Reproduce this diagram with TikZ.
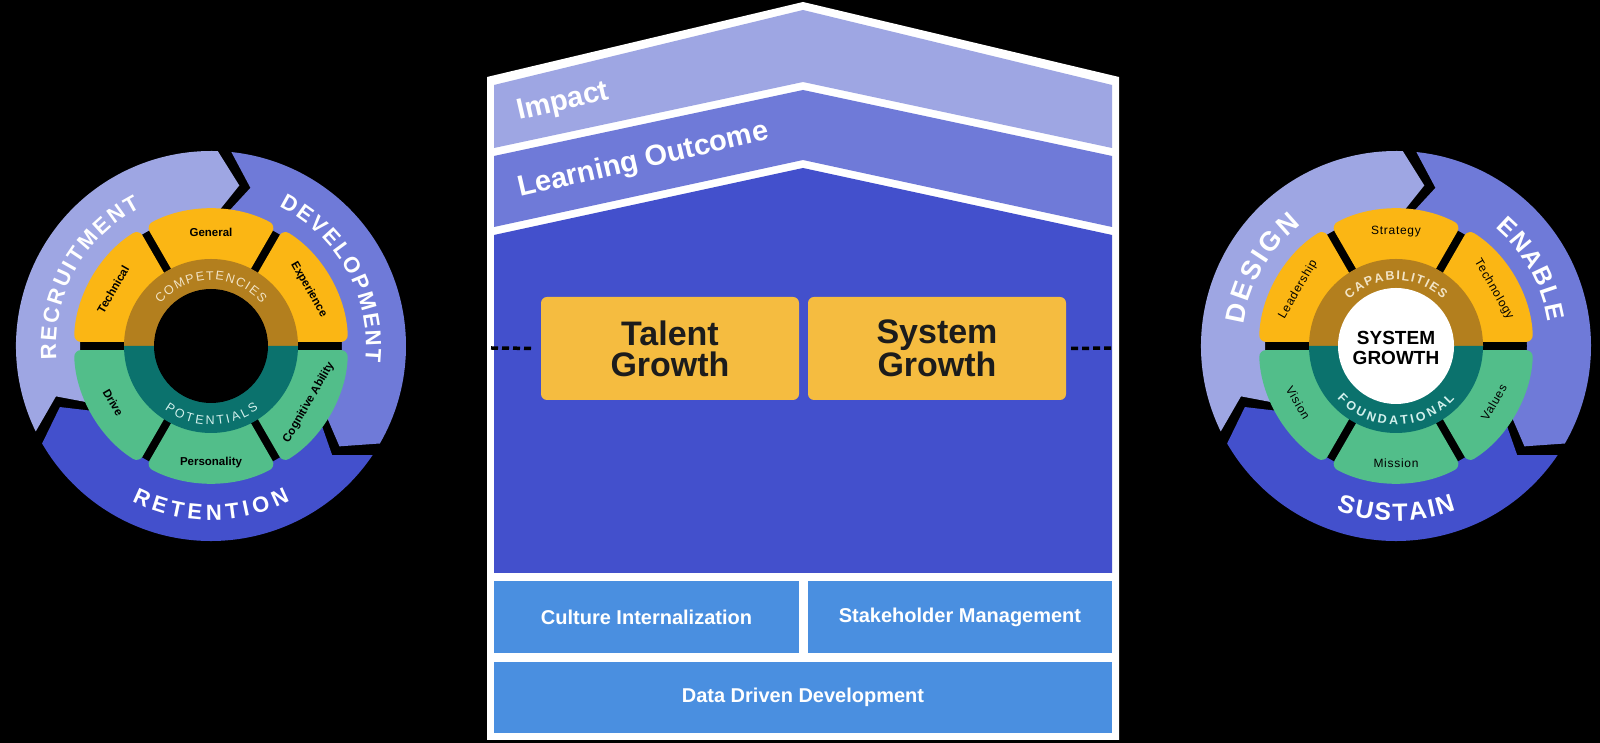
\documentclass[tikz,border=0pt]{standalone}
\usepackage{fontspec}
\setmainfont{Liberation Sans}
\newfontfamily\spacedfont[LetterSpace=6]{Liberation Sans}
\usetikzlibrary{decorations.text}

\definecolor{roofLight}{HTML}{9EA6E3}
\definecolor{roofMid}{HTML}{6F7AD8}
\definecolor{roofDark}{HTML}{4350CC}
\definecolor{sectorYellow}{HTML}{FBB614}
\definecolor{sectorGreen}{HTML}{52BE8A}
\definecolor{ringBrown}{HTML}{B37F1E}
\definecolor{ringTeal}{HTML}{0B726D}
\definecolor{growthYellow}{HTML}{F5BC40}
\definecolor{baseBlue}{HTML}{4A8FE0}
\definecolor{inkDark}{HTML}{1C1C1C}
\definecolor{creamText}{HTML}{F2E4C6}
\definecolor{mintText}{HTML}{D2F0EC}

\begin{document}
\begin{tikzpicture}[x=1pt, y=1pt,
    growthbox/.style={
      fill=growthYellow,
      rounded corners=6pt,
      text=inkDark,
      align=center,
      font=\fontsize{34}{31}\selectfont\bfseries,
      minimum width=258pt,
      minimum height=103pt,
      inner sep=0pt
    },
    basebox/.style={
      fill=baseBlue,
      text=white,
      font=\fontsize{20}{24}\selectfont\bfseries,
      inner sep=0pt
    },
    bandlabel/.style={
      text=white,
      font=\fontsize{29}{32}\selectfont\bfseries,
      anchor=base west,
      rotate=13,
      inner sep=0pt
    },
    seclabel/.style={text=black, font=\fontsize{11.5}{13}\selectfont\bfseries, inner sep=0pt},
    seclabelspaced/.style={text=black, font=\spacedfont\fontsize{12}{14}\selectfont, inner sep=0pt},
    link/.style={draw=black, line width=3.5pt, dash pattern=on 7pt off 4pt},
    ringtext/.style={decorate, decoration={text along path, text align=fit to path, text color=#1}}
  ]

    % Background
    \fill[black] (0,0) rectangle (1600,743);
    \useasboundingbox (0,0) rectangle (1600,743);

    % House
    \fill[white] (487,3) -- (487,666) -- (803,741) -- (1119,666) -- (1119,3) -- cycle;
    \fill[roofLight] (494,595) -- (494,658) -- (803,733) -- (1112,658) -- (1112,595) -- (803,661) -- cycle;
    \fill[roofMid] (494,516) -- (494,587) -- (803,653) -- (1112,587) -- (1112,516) -- (803,583) -- cycle;
    \fill[roofDark] (494,170) -- (494,508) -- (803,575) -- (1112,508) -- (1112,170) -- cycle;

    \node[bandlabel] (impact) at (519,623) {Impact};
    \node[bandlabel] (outcome) at (520,546) {Learning Outcome};

    % Growth boxes
    \node[growthbox] (talent) at (670,394.5) {Talent\\Growth};
    \node[growthbox] (system) at (937,394.5) {System\\Growth};

    % Foundation
    \node[basebox, minimum width=305pt, minimum height=72pt] (culture) at (646.5,126)
      {Culture Internalization};
    \node[basebox, minimum width=304pt, minimum height=72pt] (stakeholder) at (960,126)
      {Stakeholder Management};
    \node[basebox, minimum width=618pt, minimum height=71pt] (data) at (803,45.5)
      {Data Driven Development};

    % Links to the circles
    \coordinate (leftWall) at (491,395);
    \coordinate (rightWall) at (1115,395);
    \draw[link, shorten >=7pt] (leftWall) -- (talent.west);
    \draw[link, shorten <=5pt] (system.east) -- (rightWall);

    % Circles
    \coordinate (talentHub) at (211,397);
    \coordinate (systemHub) at (1396,397);

    \foreach \hub in {talentHub, systemHub} {
      \begin{scope}[shift={(\hub)}]
        \foreach \s/\e/\col in {208/86/roofLight, 86/-32/roofMid, -32/-152/roofDark}
          \fill[\col] ({\s-2}:195) arc[start angle={\s-2}, end angle={\e+2}, radius=195]
            -- ({\e-6}:163) -- ({\e+2}:131)
            arc[start angle={\e+2}, end angle={\s-2}, radius=131]
            -- ({\s-10}:163) -- cycle;
        \foreach \a/\b/\col in {0/60/sectorYellow, 60/120/sectorYellow, 120/180/sectorYellow,
            -60/0/sectorGreen, -120/-60/sectorGreen, -180/-120/sectorGreen}
          \fill[\col, rounded corners=7pt] ({\a+2.9}:80) -- ({\a+1.7}:137)
            arc[start angle={\a+1.7}, end angle={\b-1.7}, radius=137]
            -- ({\b-2.9}:80) -- cycle;
        \fill[ringBrown] (0:87) arc[start angle=0, end angle=180, radius=87] -- cycle;
        \fill[ringTeal] (180:87) arc[start angle=180, end angle=360, radius=87] -- cycle;
      \end{scope}
    }

    % Talent circle
    \begin{scope}[shift={(talentHub)}]
      \fill[black] (0,0) circle[radius=57];

      \path[ringtext=white, decoration={text={|\fontsize{22}{26}\selectfont\bfseries|RECRUITMENT}}]
        (185:155) arc[start angle=185, end angle=117, radius=155];
      \path[ringtext=white, decoration={text={|\fontsize{22}{26}\selectfont\bfseries|DEVELOPMENT}}]
        (64:155) arc[start angle=64, end angle=-6, radius=155];
      \path[ringtext=white, decoration={text={|\fontsize{22}{26}\selectfont\bfseries|RETENTION}}]
        (-117:174) arc[start angle=-117, end angle=-63, radius=174];

      \path[ringtext=creamText, decoration={text={|\fontsize{12.5}{14}\selectfont|COMPETENCIES}}]
        (140:66) arc[start angle=140, end angle=40, radius=66];
      \path[ringtext=mintText, decoration={text={|\fontsize{12.5}{14}\selectfont|POTENTIALS}}]
        (-126:79) arc[start angle=-126, end angle=-53, radius=79];

      \node[seclabel] (general) at (90:114) {General};
      \node[seclabel, rotate=60] (technical) at (150:113) {Technical};
      \node[seclabel, rotate=-60] (experience) at (30:113) {Experience};
      \node[seclabel, rotate=-60] (drive) at (-150:113) {Drive};
      \node[seclabel] (personality) at (-90:117) {Personality};
      \node[seclabel, rotate=60] (cognitive) at (-30:113) {Cognitive Ability};
    \end{scope}

    % System circle
    \begin{scope}[shift={(systemHub)}]
      \fill[white] (0,0) circle[radius=58];
      \node[text=black, align=center, font=\fontsize{19}{20}\selectfont\bfseries] (hubTitle)
        at (0,-2) {SYSTEM\\GROWTH};

      \path[ringtext=white, decoration={text={|\fontsize{27}{30}\selectfont\bfseries|DESIGN}}]
        (172:154) arc[start angle=172, end angle=128, radius=154];
      \path[ringtext=white, decoration={text={|\fontsize{25}{28}\selectfont\bfseries|ENABLE}}]
        (50:154) arc[start angle=50, end angle=9, radius=154];
      \path[ringtext=white, decoration={text={|\fontsize{25}{28}\selectfont\bfseries|SUSTAIN}}]
        (-110:175) arc[start angle=-110, end angle=-70, radius=175];

      \path[ringtext=creamText, decoration={text={|\fontsize{12.5}{14}\selectfont\bfseries|CAPABILITIES}}]
        (135:66) arc[start angle=135, end angle=45, radius=66];
      \path[ringtext=mintText, decoration={text={|\fontsize{12.5}{14}\selectfont\bfseries|FOUNDATIONAL}}]
        (-138:79) arc[start angle=-138, end angle=-42, radius=79];

      \node[seclabelspaced] (strategy) at (90:114) {Strategy};
      \node[seclabelspaced, rotate=60] (leadership) at (150:113) {Leadership};
      \node[seclabelspaced, rotate=-60] (technology) at (30:113) {Technology};
      \node[seclabelspaced, rotate=-60] (vision) at (-150:113) {Vision};
      \node[seclabelspaced] (mission) at (-90:117) {Mission};
      \node[seclabelspaced, rotate=60] (values) at (-30:113) {Values};
    \end{scope}

  \end{tikzpicture}
\end{document}
